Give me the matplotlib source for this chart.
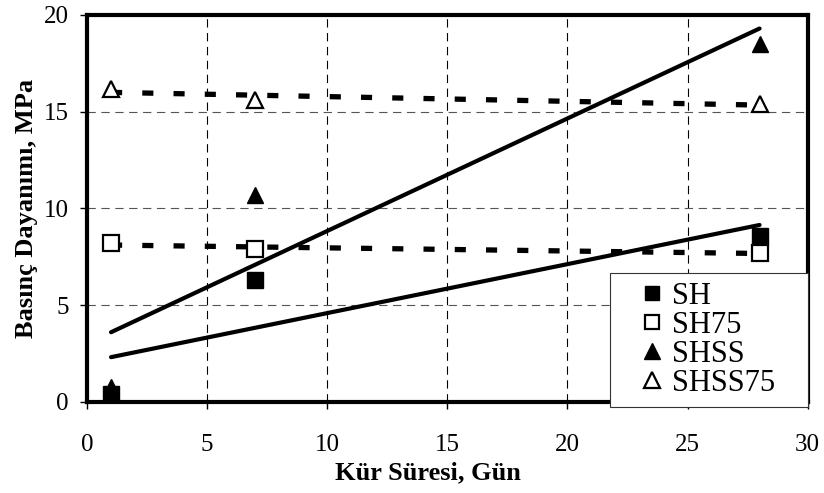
import numpy as np
import matplotlib.pyplot as plt
from matplotlib.legend_handler import HandlerLine2D
from matplotlib.lines import Line2D

plt.rcParams['font.family'] = ['Liberation Serif', 'DejaVu Serif']
plt.rcParams['lines.scale_dashes'] = False

gun = [1, 7, 28]
sh = [0.4, 6.3, 8.6]
sh75 = [8.2, 7.9, 7.7]
shss = [0.8, 10.7, 18.5]
shss75 = [16.2, 15.6, 15.4]

fig = plt.figure(figsize=(8.24, 4.93), dpi=100)
ax = fig.add_axes([0.1056, 0.1846, 0.8745, 0.7850])

x = np.array(gun, dtype=float)
xl = np.array([x.min(), x.max()])

# trend lines (linear fits)
for y, ls in [(sh, 'solid'), (shss, 'solid'), (sh75, 'dash'), (shss75, 'dash')]:
    k, b = np.polyfit(x, y, 1)
    if ls == 'solid':
        ax.plot(xl, k * xl + b, color='black', lw=3, solid_capstyle='round', zorder=3)
    else:
        ax.plot(xl, k * xl + b, color='black', lw=3.8, dashes=(8, 14.5),
                dash_capstyle='butt', zorder=3)

ax.plot(gun, sh, 's', color='black', ms=11, ls='none', label='SH', zorder=4)
ax.plot(gun, sh75, 's', mfc='white', mec='black', mew=1.6, ms=11, ls='none',
        label='SH75', zorder=4)
ax.plot(gun, shss, '^', color='black', ms=12, ls='none', label='SHSS', zorder=4)
ax.plot(gun, shss75, '^', mfc='white', mec='black', mew=1.6, ms=12, ls='none',
        label='SHSS75', zorder=4)

ax.set_xlim(0, 30)
ax.set_ylim(0, 20)
ax.set_xticks(range(0, 31, 5))
ax.set_yticks(range(0, 21, 5))
ax.tick_params(labelsize=18, direction='out', length=5, width=1)
ax.tick_params(axis='x', pad=18)
ax.tick_params(axis='y', pad=8)
ax.xaxis.grid(True, color='black', ls=(0, (6, 4)), lw=0.8)
ax.yaxis.grid(True, color='#555555', ls=(0, (6, 4)), lw=0.8)
ax.set_axisbelow(True)
for s in ax.spines.values():
    s.set_linewidth(3)

ax.set_xlabel('Kür Süresi, Gün', fontsize=19, fontweight='bold', labelpad=4)
ax.xaxis.label.set_x(0.473)
ax.set_ylabel('Basınç Dayanımı, MPa', fontsize=19, fontweight='bold', labelpad=4)

# legend box wider than its content, as in the original
leg = ax.legend(loc='lower right', bbox_to_anchor=(0.7252, -0.013, 0.2748, 0.5),
                mode='expand', borderaxespad=0,
                fontsize=22, fancybox=False, framealpha=1, edgecolor='#333333',
                handletextpad=0.1, handlelength=1.63, labelspacing=0,
                borderpad=0.3, markerscale=0.95,
                handler_map={Line2D: HandlerLine2D(xpad=0.52)})
leg.get_frame().set_linewidth(0.8)
leg.set_zorder(5)

fig.savefig('out.png', dpi=100)
